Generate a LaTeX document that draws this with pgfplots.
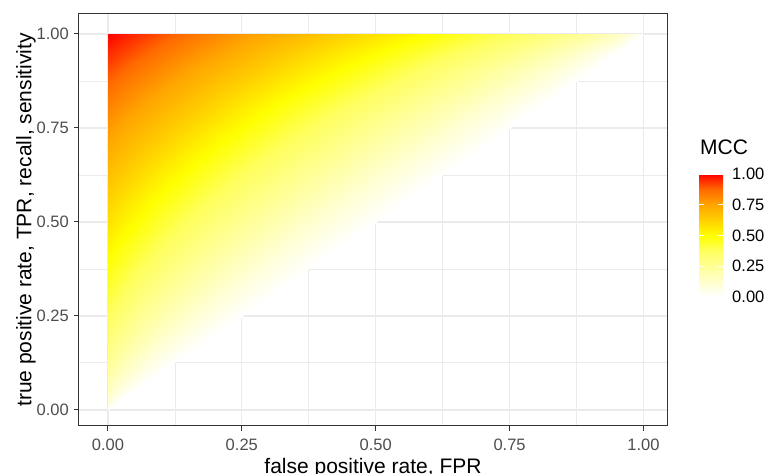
\documentclass[border=0pt]{standalone}
\usepackage{fontspec}
\setmainfont{Liberation Sans}
\usepackage{pgfplots}
\usepackage{pgfplotstable}
\pgfplotsset{compat=1.18}
\definecolor{axisgray}{HTML}{333333}
\definecolor{tickgray}{HTML}{4D4D4D}
\definecolor{gridgray}{HTML}{EBEBEB}
\newcommand{\tickfont}{\fontsize{16.5}{19.8}\selectfont}
\newcommand{\titlefont}{\fontsize{21}{25}\selectfont}

% MCC over the (FPR, TPR) triangle, rows of constant TPR
\pgfplotstableread{
x y c
0 0 0
0 0 0
0 0 0
0 0 0
0 0 0
0 0 0
0 0 0
0 0 0
0 0 0
0 0 0
0 0 0
0 0 0
0 0.025 0.113
0.0025 0.025 0.097
0.005 0.025 0.082
0.0075 0.025 0.069
0.01 0.025 0.057
0.0125 0.025 0.046
0.015 0.025 0.036
0.0175 0.025 0.026
0.02 0.025 0.017
0.0225 0.025 0.008
0.02375 0.025 0.004
0.025 0.025 0
0 0.05 0.160
0.005 0.05 0.138
0.01 0.05 0.117
0.015 0.05 0.099
0.02 0.05 0.082
0.025 0.05 0.066
0.03 0.05 0.051
0.035 0.05 0.037
0.04 0.05 0.024
0.045 0.05 0.012
0.0475 0.05 0.006
0.05 0.05 0
0 0.1 0.229
0.01 0.1 0.197
0.02 0.1 0.168
0.03 0.1 0.142
0.04 0.1 0.118
0.05 0.1 0.095
0.06 0.1 0.074
0.07 0.1 0.054
0.08 0.1 0.035
0.09 0.1 0.017
0.095 0.1 0.008
0.1 0.1 0
0 0.15 0.285
0.015 0.15 0.245
0.03 0.15 0.210
0.045 0.15 0.177
0.06 0.15 0.147
0.075 0.15 0.119
0.09 0.15 0.092
0.105 0.15 0.067
0.12 0.15 0.044
0.135 0.15 0.021
0.1425 0.15 0.011
0.15 0.15 0
0 0.2 0.333
0.02 0.2 0.288
0.04 0.2 0.246
0.06 0.2 0.208
0.08 0.2 0.173
0.1 0.2 0.140
0.12 0.2 0.109
0.14 0.2 0.080
0.16 0.2 0.052
0.18 0.2 0.025
0.19 0.2 0.013
0.2 0.2 0
0 0.3 0.420
0.03 0.3 0.364
0.06 0.3 0.312
0.09 0.3 0.265
0.12 0.3 0.221
0.15 0.3 0.180
0.18 0.3 0.140
0.21 0.3 0.103
0.24 0.3 0.068
0.27 0.3 0.033
0.285 0.3 0.016
0.3 0.3 0
0 0.4 0.500
0.04 0.4 0.435
0.08 0.4 0.375
0.12 0.4 0.319
0.16 0.4 0.267
0.2 0.4 0.218
0.24 0.4 0.172
0.28 0.4 0.127
0.32 0.4 0.083
0.36 0.4 0.041
0.38 0.4 0.021
0.4 0.4 0
0 0.5 0.577
0.05 0.5 0.504
0.1 0.5 0.436
0.15 0.5 0.374
0.2 0.5 0.314
0.25 0.5 0.258
0.3 0.5 0.204
0.35 0.5 0.152
0.4 0.5 0.101
0.45 0.5 0.050
0.475 0.5 0.025
0.5 0.5 0
0 0.6 0.655
0.06 0.6 0.574
0.12 0.6 0.500
0.18 0.6 0.431
0.24 0.6 0.365
0.3 0.6 0.302
0.36 0.6 0.240
0.42 0.6 0.180
0.48 0.6 0.120
0.54 0.6 0.061
0.57 0.6 0.030
0.6 0.6 0
0 0.7 0.734
0.07 0.7 0.647
0.14 0.7 0.567
0.21 0.7 0.492
0.28 0.7 0.420
0.35 0.7 0.350
0.42 0.7 0.282
0.49 0.7 0.214
0.56 0.7 0.145
0.63 0.7 0.074
0.665 0.7 0.038
0.7 0.7 0
0 0.8 0.816
0.08 0.8 0.725
0.16 0.8 0.641
0.24 0.8 0.560
0.32 0.8 0.483
0.4 0.8 0.408
0.48 0.8 0.333
0.56 0.8 0.257
0.64 0.8 0.178
0.72 0.8 0.094
0.76 0.8 0.048
0.8 0.8 0
0 0.9 0.905
0.09 0.9 0.810
0.18 0.9 0.722
0.27 0.9 0.639
0.36 0.9 0.559
0.45 0.9 0.480
0.54 0.9 0.401
0.63 0.9 0.318
0.72 0.9 0.229
0.81 0.9 0.128
0.855 0.9 0.069
0.9 0.9 0
0 0.95 0.951
0.095 0.95 0.856
0.19 0.95 0.768
0.285 0.95 0.684
0.38 0.95 0.604
0.475 0.95 0.525
0.57 0.95 0.445
0.665 0.95 0.361
0.76 0.95 0.270
0.855 0.95 0.160
0.9025 0.95 0.091
0.95 0.95 0
0 1 1
0.1 1 0.905
0.2 1 0.816
0.3 1 0.734
0.4 1 0.655
0.5 1 0.577
0.6 1 0.500
0.7 1 0.420
0.8 1 0.333
0.9 1 0.229
0.95 1 0.160
1 1 0
}\mcc

\begin{document}
\begin{tikzpicture}
\path[use as bounding box] (-79pt,-48pt) rectangle (690pt,426pt);
\begin{axis}[
  at={(0pt,0pt)}, anchor=south west,
  scale only axis, width=588pt, height=412pt,
  xmin=-0.054, xmax=1.044, ymin=-0.043, ymax=1.053,
  xtick={0,0.25,0.5,0.75,1}, xticklabels={0.00,0.25,0.50,0.75,1.00},
  ytick={0,0.25,0.5,0.75,1}, yticklabels={0.00,0.25,0.50,0.75,1.00},
  minor xtick={0.125,0.375,0.625,0.875},
  minor ytick={0.125,0.375,0.625,0.875},
  grid=both,
  major grid style={color=gridgray, line width=1.4pt},
  minor grid style={color=gridgray, line width=0.7pt},
  tick pos=left, tick align=outside,
  major tick length=4.5pt, minor tick length=0pt,
  tick style={color=axisgray, line width=1pt},
  axis line style={color=axisgray, line width=1pt},
  xticklabel style={font=\tickfont, text=tickgray, anchor=base, inner sep=0pt, yshift=-19.5pt},
  yticklabel style={font=\tickfont, text=tickgray, anchor=east, inner sep=0pt, xshift=-5.5pt},
  xlabel={false positive rate, FPR},
  ylabel={true positive rate, TPR, recall, sensitivity},
  xlabel style={font=\titlefont, at={(axis description cs:0.5,0)}, anchor=base, inner sep=0pt, yshift=-47pt},
  ylabel style={font=\titlefont, at={(axis description cs:0,0.5)}, anchor=base, inner sep=0pt, yshift=47.5pt},
  colormap={mcc}{rgb255=(255,255,255) rgb255=(255,255,205) rgb255=(255,255,150)
    rgb255=(255,255,95) rgb255=(255,255,0) rgb255=(255,208,0) rgb255=(255,165,0)
    rgb255=(255,106,0) rgb255=(255,0,0)},
  point meta min=0, point meta max=1,
  colorbar,
  colorbar/width=24pt,
  colorbar style={
    at={(parent axis.south east)}, anchor=south west,
    xshift=23.5pt, yshift=129pt,
    scale only axis, width=24pt, height=123pt,
    ytick={0,0.25,0.5,0.75,1}, yticklabels={0.00,0.25,0.50,0.75,1.00},
    ytick pos=both, yticklabel pos=right,
    tick align=inside, major tick length=4.8pt,
    tick style={white, line width=0.6pt},
    axis line style={draw=none},
    yticklabel style={font=\tickfont, text=black, anchor=west, inner sep=0pt, xshift=9pt},
    title={MCC},
    title style={at={(0,1)}, anchor=base west, inner sep=0pt, xshift=1pt, yshift=13pt, font=\titlefont},
  },
]
\addplot[surf, shader=interp, mesh/cols=12, point meta=explicit] table[x=x, y=y, meta=c] {\mcc};
\end{axis}
\end{tikzpicture}
\end{document}
